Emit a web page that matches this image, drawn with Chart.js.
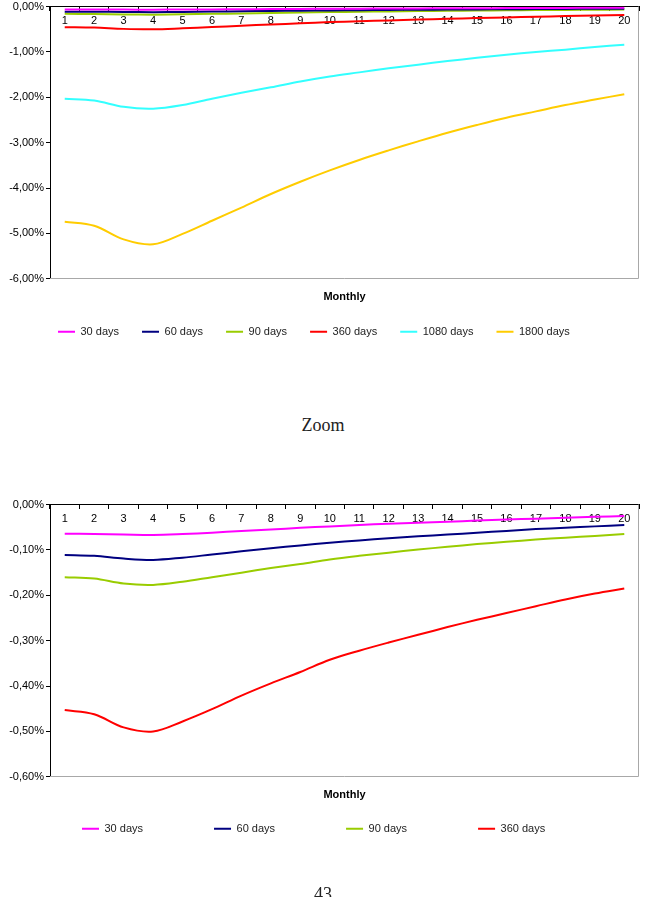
<!DOCTYPE html>
<html><head><meta charset="utf-8">
<script src="https://cdn.jsdelivr.net/npm/chart.js@4/dist/chart.umd.min.js"></script>
<style>
html,body{margin:0;padding:0;background:#fff;}
body{position:relative;width:646px;height:897px;overflow:hidden;}
.c{position:absolute;left:0;width:646px;}
#cap{position:absolute;left:0;width:646px;text-align:center;top:415px;font-family:"Liberation Serif",serif;font-size:18px;line-height:20px;color:#222;}
#pg{position:absolute;left:0;width:646px;text-align:center;top:884px;font-family:"Liberation Serif",serif;font-size:18px;line-height:20px;color:#222;}
</style></head><body>
<div class="c" style="top:-2px;height:350px"><canvas id="c1" width="646" height="350"></canvas></div>
<div id="cap">Zoom</div>
<div class="c" style="top:496px;height:398px"><canvas id="c2" width="646" height="398"></canvas></div>
<div id="pg">43</div>
<script>
// Categories (months)
const months = ['1','2','3','4','5','6','7','8','9','10','11','12','13','14','15','16','17','18','19','20'];
// Series values in percent
const d30   = [-0.064,-0.065,-0.066,-0.067,-0.065,-0.062,-0.058,-0.055,-0.051,-0.048,-0.045,-0.042,-0.040,-0.038,-0.035,-0.033,-0.031,-0.029,-0.027,-0.025];
const d60   = [-0.111,-0.113,-0.119,-0.122,-0.117,-0.110,-0.103,-0.096,-0.090,-0.084,-0.079,-0.074,-0.070,-0.066,-0.062,-0.058,-0.054,-0.051,-0.048,-0.045];
const d90   = [-0.160,-0.163,-0.174,-0.177,-0.170,-0.160,-0.150,-0.140,-0.131,-0.121,-0.113,-0.106,-0.099,-0.093,-0.087,-0.082,-0.077,-0.073,-0.069,-0.065];
const d360  = [-0.453,-0.462,-0.491,-0.500,-0.478,-0.451,-0.421,-0.394,-0.369,-0.342,-0.322,-0.304,-0.287,-0.270,-0.254,-0.239,-0.224,-0.209,-0.196,-0.185];
const d1080 = [-2.03,-2.07,-2.21,-2.25,-2.17,-2.03,-1.90,-1.78,-1.65,-1.54,-1.45,-1.36,-1.28,-1.20,-1.13,-1.06,-1.00,-0.95,-0.89,-0.84];
const d1800 = [-4.74,-4.83,-5.13,-5.24,-5.01,-4.72,-4.43,-4.13,-3.86,-3.61,-3.38,-3.17,-2.97,-2.78,-2.61,-2.45,-2.31,-2.17,-2.05,-1.93];
const seriesNames = ['30 days','60 days','90 days','360 days','1080 days','1800 days'];
const seriesColors = ['#FF00FF','#000080','#99CC00','#FF0000','#33FFFF','#FFCC00'];
// Y tick settings
const topYMin = -6, topYStep = 1;
const zoomYMin = -0.6, zoomYStep = 0.1;
const xTitle = 'Monthly';

Chart.defaults.font.family = '"Liberation Sans", Arial, sans-serif';
Chart.defaults.font.size = 11;

const frame = {
  id: 'frame',
  beforeDraw(chart, args, opts) {
    const lg = chart.legend; if (!lg) return;
    const pad = lg.options.labels.padding;
    lg.left = opts.startX - pad;
    lg.top = chart.chartArea.bottom + opts.centerGap - pad - 5.5;
  },
  beforeDatasetsDraw(chart) {
    const {ctx, chartArea: a} = chart;
    ctx.save();
    ctx.strokeStyle = '#a8a8a8'; ctx.lineWidth = 1;
    const r = Math.round(a.right) - 0.5, b = Math.round(a.bottom) - 0.5;
    ctx.beginPath();
    ctx.moveTo(r, a.top); ctx.lineTo(r, b); ctx.lineTo(a.left, b);
    ctx.stroke();
    ctx.restore();
  }
};

function fmt(v){ if (Math.abs(v) < 1e-9) v = 0; return v.toFixed(2).replace('.', ',') + '%'; }

function makeDatasets(arrs){
  return arrs.map((d, i) => ({
    label: seriesNames[i], data: d, borderColor: seriesColors[i], backgroundColor: seriesColors[i],
    borderWidth: 2, pointRadius: 0, pointHoverRadius: 0, tension: 0.35, fill: false
  }));
}

function makeChart(id, arrs, yMin, yStep, legendPad, startX, centerGap){
  return new Chart(document.getElementById(id), {
    type: 'line',
    data: { labels: months, datasets: makeDatasets(arrs) },
    plugins: [frame],
    options: {
      responsive: false, animation: false, devicePixelRatio: 1,
      layout: { padding: { right: 7 } },
      scales: {
        x: {
          type: 'category', position: { y: 0 }, offset: true,
          grid: { display: true, drawOnChartArea: false, drawTicks: true, tickLength: 4, color: '#000', offset: true },
          border: { display: true, color: '#000', width: 1 },
          ticks: { color: '#000', padding: 4, maxRotation: 0, autoSkip: false }
        },
        x2: {
          type: 'category', position: 'bottom',
          grid: { display: false, drawTicks: false, tickLength: 0 }, border: { display: false }, ticks: { display: false },
          title: { display: true, text: xTitle, color: '#000', font: { size: 11, weight: 'bold' }, padding: { top: 12, bottom: 0 } }
        },
        y: {
          min: yMin, max: 0,
          afterFit(s){ s.width = 50; },
          ticks: { stepSize: yStep, color: '#000', padding: 2, callback: fmt },
          grid: { drawOnChartArea: false, tickLength: 4, color: '#000' },
          border: { color: '#000' }
        }
      },
      plugins: {
        frame: { startX: startX, centerGap: centerGap },
        tooltip: { enabled: false },
        legend: {
          position: 'bottom', align: 'start',
          labels: { usePointStyle: true, pointStyle: 'line', pointStyleWidth: 17, padding: legendPad, color: '#222', font: { size: 11 } }
        }
      }
    }
  });
}

makeChart('c1', [d30, d60, d90, d360, d1080, d1800], topYMin, topYStep, 23, 58, 53);
makeChart('c2', [d30, d60, d90, d360], zoomYMin, zoomYStep, 71, 82, 52);
</script>
</body></html>
